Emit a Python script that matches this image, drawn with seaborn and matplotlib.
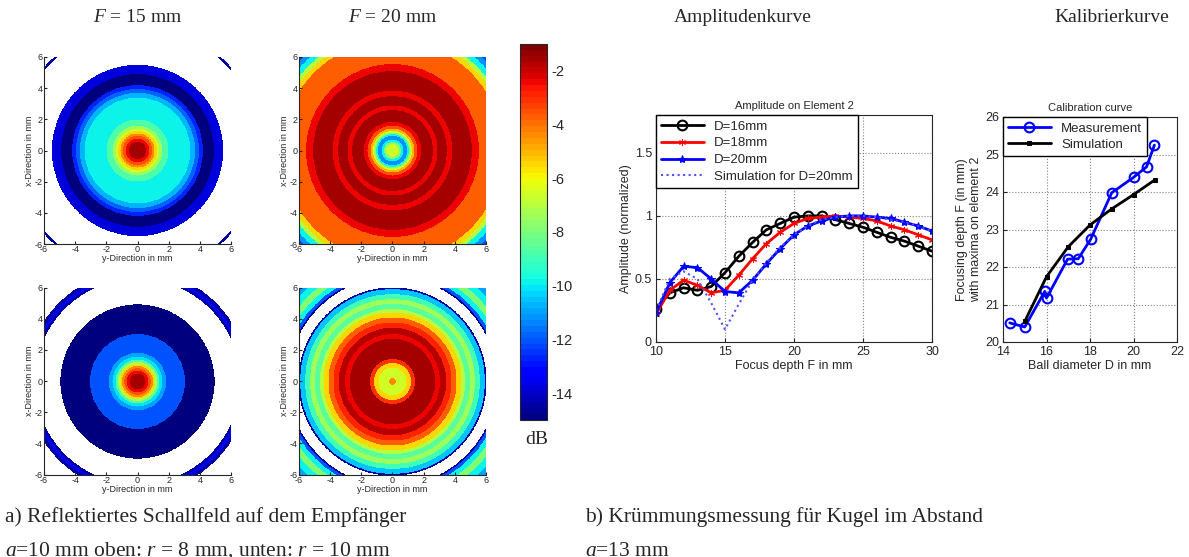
import numpy as np
import matplotlib
matplotlib.use("Agg")
import matplotlib.pyplot as plt
import seaborn as sns

# ---- ring profiles of the reflected sound field (outer radius in mm, level in dB)
# nan = below -15 dB, drawn white
tl_radii = [0.55, 0.75, 0.95, 1.1, 1.25, 1.4, 1.6, 2.0, 3.4, 3.7, 3.95, 4.2, 4.9, 5.5, 7.9, 8.05, np.inf]
tl_levels = [-1.5, -2.5, -3.5, -4.5, -5.5, -6.5, -7.5, -8.7, -9.8, -10.8, -11.8, -12.8, -14.9, -13.8, np.nan, -14.5, np.nan]

tr_radii = [0.4, 0.55, 0.7, 0.95, 1.05, 1.15, 1.25, 1.4, 1.6, 1.85, 2.6, 2.9, 3.5, 3.85,
            5.1, 5.55, 7.1, 7.4, 7.65, 8.0, 8.3, np.inf]
tr_levels = [-6.5, -8.0, -9.8, -11.2, -9.8, -8.0, -6.5, -5.0, -3.5, -2.5, -1.5, -2.5, -1.5, -2.5,
             -1.5, -2.5, -3.8, -5.5, -7.0, -9.8, -11.2, -12.0]

bl_radii = [0.5, 0.7, 0.85, 1.0, 1.1, 1.25, 1.4, 1.6, 1.85, 3.05, 4.95, 6.6, 6.75, 6.95, 7.15, np.inf]
bl_levels = [-1.5, -2.5, -3.5, -4.5, -5.5, -7.0, -8.5, -10.0, -11.0, -12.0, -14.9, np.nan, -14.5, -13.5, -14.5, np.nan]

br_radii = [0.22, 0.9, 1.2, 1.45, 2.75, 3.05, 3.45, 3.8, 4.12, 4.44, 4.66, 4.98, 5.3, 5.62, 5.94, 6.05,
            6.7, 6.8, 7.0, 7.3, 7.7, 8.1, np.inf]
br_levels = [-4.5, -6.5, -5.5, -3.0, -1.5, -2.5, -1.8, -2.8, -3.8, -5.5, -7.0, -8.5, -7.5, -9.0, -10.5, -14.5,
             np.nan, -14.5, -12.0, -9.8, -8.0, -9.8, -11.0]

cbar_ticks = [-14, -12, -10, -8, -6, -4, -2]
grid_ticks = [-6, -4, -2, 0, 2, 4, 6]

# ---- amplitude on element 2
amp_focus = list(range(10, 31))
amp_d16 = [0.26, 0.39, 0.43, 0.41, 0.44, 0.55, 0.68, 0.79, 0.89, 0.94, 0.99, 1.00, 1.00, 0.97, 0.94,
           0.91, 0.87, 0.83, 0.80, 0.76, 0.72]
amp_d18 = [0.22, 0.41, 0.49, 0.45, 0.39, 0.41, 0.53, 0.66, 0.78, 0.87, 0.94, 0.98, 0.99, 1.00, 0.99,
           0.98, 0.96, 0.92, 0.89, 0.85, 0.81]
amp_d20 = [0.23, 0.47, 0.60, 0.59, 0.50, 0.40, 0.39, 0.49, 0.62, 0.74, 0.85, 0.92, 0.96, 0.99, 1.00,
           1.00, 0.99, 0.98, 0.95, 0.92, 0.88]
amp_sim20 = [0.25, 0.50, 0.56, 0.50, 0.31, 0.10, 0.30, 0.49, 0.63, 0.75, 0.85, 0.92, 0.97, 0.99, 1.00,
             1.00, 0.99, 0.97, 0.95, 0.92, 0.88]

# ---- calibration curve
cal_meas_d = [14.31, 15.0, 15.92, 16.0, 16.97, 17.46, 18.03, 19.0, 20.0, 20.6, 20.96]
cal_meas_f = [20.51, 20.40, 21.35, 21.17, 22.21, 22.22, 22.74, 23.98, 24.39, 24.67, 25.25]
cal_sim_d = [15, 16, 17, 18, 19, 20, 21]
cal_sim_f = [20.55, 21.74, 22.54, 23.12, 23.55, 23.93, 24.33]

sns.set_style("ticks")
plt.rcParams['font.family'] = ['Liberation Sans', 'DejaVu Sans']
plt.rcParams['axes.unicode_minus'] = False
plt.rcParams['mathtext.fontset'] = 'custom'
plt.rcParams['mathtext.rm'] = 'Liberation Serif'
plt.rcParams['mathtext.it'] = 'Liberation Serif:italic'

W, H = 1189, 557
fig = plt.figure(figsize=(W / 100, H / 100), dpi=100)


def px_axes(x0, y0, x1, y1):
    return fig.add_axes([x0 / W, 1 - y1 / H, (x1 - x0) / W, (y1 - y0) / H])


def ring_field(radii, levels):
    g = np.linspace(-6, 6, 601)
    xx, yy = np.meshgrid(g, g)
    rr = np.hypot(xx, yy)
    idx = np.searchsorted(np.asarray(radii), rr, side='right')
    return np.asarray(levels, dtype=float)[idx]


jet = plt.get_cmap('jet', 64).copy()
jet.set_bad('white')

panels = [
    ((44, 57, 231, 244), tl_radii, tl_levels),
    ((299, 57, 486, 244), tr_radii, tr_levels),
    ((44, 287, 231, 475), bl_radii, bl_levels),
    ((299, 287, 486, 475), br_radii, br_levels),
]
for box, radii, levels in panels:
    ax = px_axes(*box)
    im = ax.imshow(ring_field(radii, levels), extent=(-6, 6, -6, 6), origin='lower',
                   cmap=jet, vmin=-15, vmax=-1, interpolation='nearest')
    ax.set_xticks(grid_ticks)
    ax.set_yticks(grid_ticks)
    ax.tick_params(direction='in', labelsize=6.5, length=2, pad=1)
    ax.set_xlabel('y-Direction in mm', fontsize=6.5, labelpad=0)
    ax.set_ylabel('x-Direction in mm', fontsize=6.5, labelpad=0)
    sns.despine(ax=ax)

cax = px_axes(520, 44, 547, 420)
cb = fig.colorbar(im, cax=cax, ticks=cbar_ticks)
cb.ax.tick_params(direction='in', labelsize=10.5, length=3)
cb.outline.set_linewidth(0.8)

# ---- amplitude plot
ax_a = px_axes(656, 115, 932, 342)
sns.lineplot(x=amp_focus, y=amp_d16, ax=ax_a, color='black', lw=2, marker='o', markersize=7,
             markerfacecolor='none', markeredgecolor='black', markeredgewidth=1.5, label='D=16mm')
sns.lineplot(x=amp_focus, y=amp_d18, ax=ax_a, color='red', lw=2, marker=(6, 2, 0), markersize=5,
             markeredgecolor='red', label='D=18mm')
sns.lineplot(x=amp_focus, y=amp_d20, ax=ax_a, color='blue', lw=2, marker='*', markersize=6,
             markeredgecolor='blue', label='D=20mm')
sns.lineplot(x=amp_focus, y=amp_sim20, ax=ax_a, color='#5050ff', lw=1.5, linestyle=':',
             label='Simulation for D=20mm')
ax_a.set_xlim(10, 30)
ax_a.set_ylim(0, 1.8)
ax_a.set_xticks([10, 15, 20, 25, 30])
ax_a.set_yticks([0, 0.5, 1, 1.5])
ax_a.set_yticklabels(['0', '0.5', '1', '1.5'])
ax_a.grid(True, linestyle=':', color='0.5', lw=0.8)
ax_a.tick_params(direction='in', labelsize=9, length=3, pad=3)
ax_a.set_xlabel('Focus depth F in mm', fontsize=9, labelpad=1)
ax_a.set_ylabel('Amplitude (normalized)', fontsize=9, labelpad=2)
ax_a.set_title('Amplitude on Element 2', fontsize=8, pad=4)
ax_a.legend(loc='upper left', fontsize=9.5, handlelength=3.2, frameon=True, fancybox=False,
            edgecolor='black', framealpha=1, borderaxespad=0, labelspacing=0.35)

# ---- calibration plot
ax_c = px_axes(1003, 117, 1177, 342)
sns.lineplot(x=cal_meas_d, y=cal_meas_f, ax=ax_c, sort=False, estimator=None, color='blue', lw=2,
             marker='o', markersize=7, markerfacecolor='none', markeredgecolor='blue',
             markeredgewidth=1.5, label='Measurement')
sns.lineplot(x=cal_sim_d, y=cal_sim_f, ax=ax_c, sort=False, estimator=None, color='black', lw=2,
             marker='s', markersize=3, markeredgecolor='black', label='Simulation')
ax_c.set_xlim(14, 22)
ax_c.set_ylim(20, 26)
ax_c.set_xticks([14, 16, 18, 20, 22])
ax_c.set_yticks([20, 21, 22, 23, 24, 25, 26])
ax_c.grid(True, linestyle=':', color='0.5', lw=0.8)
ax_c.tick_params(direction='in', labelsize=9, length=3, pad=3)
ax_c.set_xlabel('Ball diameter D in mm', fontsize=9, labelpad=1)
ax_c.set_ylabel('Focusing depth F (in mm)\nwith maxima on element 2', fontsize=9, labelpad=2)
ax_c.set_title('Calibration curve', fontsize=8, pad=4)
ax_c.legend(loc='upper left', fontsize=9.5, handlelength=3.2, frameon=True, fancybox=False,
            edgecolor='black', framealpha=1, borderaxespad=0, labelspacing=0.3)

# ---- headings and captions (serif)
serif = ['Liberation Serif', 'DejaVu Serif']
def ftext(x, y, s, size=14, ha='center', va='center'):
    fig.text(x / W, 1 - y / H, s, fontsize=size, ha=ha, va=va, family=serif)

ftext(138, 18, r'$F$ = 15 mm')
ftext(393, 18, r'$F$ = 20 mm')
ftext(743, 18, 'Amplitudenkurve')
ftext(1112, 18, 'Kalibrierkurve')
ftext(537, 440, 'dB')
ftext(5, 517, 'a) Reflektiertes Schallfeld auf dem Empfänger', size=15.5, ha='left')
ftext(5, 551, r'$a$=10 mm oben: $r$ = 8 mm, unten: $r$ = 10 mm', size=15.5, ha='left')
ftext(585, 517, 'b) Krümmungsmessung für Kugel im Abstand', size=15.5, ha='left')
ftext(585, 551, r'$a$=13 mm', size=15.5, ha='left')

fig.savefig('out.png', dpi=100)
